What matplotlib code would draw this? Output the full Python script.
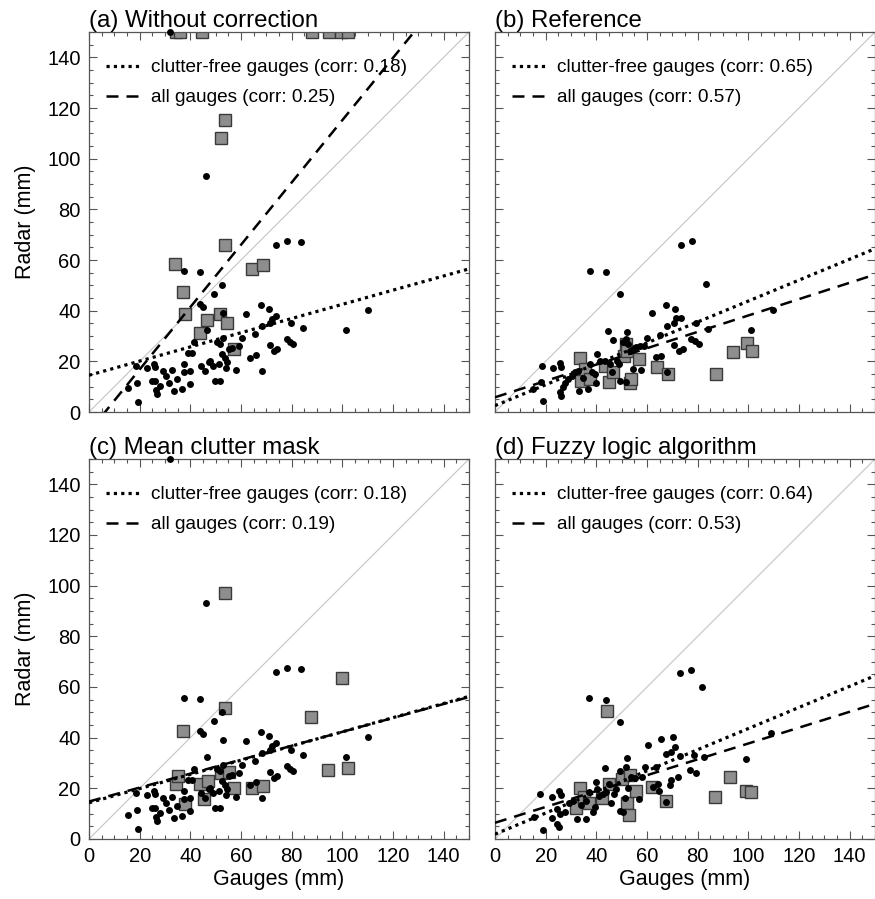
import matplotlib
matplotlib.use("Agg")
import matplotlib.pyplot as plt
import numpy as np
from matplotlib.lines import Line2D
from matplotlib.ticker import MultipleLocator

plt.rcParams['font.family'] = ['Liberation Sans', 'DejaVu Sans']

# clutter-free gauges, no correction (same in panels a and c)
free_x_a = [19.5, 15.2, 18.6, 18.9, 22.8, 25.7, 26.1, 24.8, 26.1, 26.5, 26.8, 28.1, 29.4, 30.5,
            31.4, 32.7, 33.4, 34.7, 36.7, 37.6, 37.6, 39.7, 40.0, 39.0, 40.6, 41.3, 37.6, 43.9,
            43.7, 45.0, 46.6, 44.2, 45.9, 47.2, 47.9, 48.9, 49.9, 51.8, 50.5, 51.8, 51.2, 49.5,
            52.5, 52.9, 52.9, 52.5, 53.8, 54.5, 54.2, 55.1, 56.5, 58.2, 59.1, 60.4, 62.1, 63.7,
            65.7, 66.1, 67.7, 68.1, 68.3, 71.0, 71.4, 72.3, 73.9, 71.4, 73.0, 74.3, 74.0, 78.2,
            83.5, 78.2, 79.5, 80.6, 79.8, 84.6, 101.6, 110.3, 32.0, 46.2]
free_y_a = [4.0, 9.3, 18.2, 11.3, 17.2, 19.1, 17.6, 12.3, 12.1, 8.8, 7.1, 10.3, 16.3, 14.3,
            11.3, 16.7, 8.4, 13.2, 9.0, 18.9, 15.6, 16.3, 11.0, 23.1, 23.1, 27.8, 55.6, 55.2,
            42.5, 41.5, 32.3, 18.0, 16.3, 19.9, 20.2, 18.2, 12.3, 12.1, 27.7, 27.0, 18.9, 46.4,
            50.1, 39.2, 29.1, 22.8, 21.5, 19.9, 17.2, 24.8, 25.4, 16.7, 26.1, 29.4, 38.8, 21.5,
            30.7, 22.4, 42.1, 16.0, 34.0, 40.5, 35.3, 36.9, 37.9, 26.5, 24.1, 24.8, 65.9, 67.4,
            67.0, 28.7, 27.8, 26.8, 35.3, 33.1, 32.3, 40.3, 150.0, 93.3]

# clutter-free gauges, reference
free_x_b = [37.4, 44.0, 49.3, 83.1, 18.7, 19.0, 22.7, 25.6, 26.0, 26.2, 25.6, 15.0, 18.3, 26.9,
            27.5, 28.9, 30.2, 31.5, 32.8, 33.2, 34.8, 36.7, 37.4, 38.1, 39.4, 39.8, 40.3, 41.4,
            43.3, 44.6, 45.3, 46.6, 46.0, 48.0, 49.0, 49.5, 51.6, 50.6, 52.1, 51.9, 52.5, 53.2,
            54.5, 55.8, 57.1, 58.7, 60.0, 54.3, 57.8, 61.8, 63.5, 65.7, 65.3, 67.4, 67.9, 67.7,
            70.6, 70.9, 71.6, 73.6, 70.7, 72.7, 74.2, 77.5, 79.5, 78.9, 80.6, 84.1, 73.6, 77.9,
            109.7, 100.9]
free_y_b = [55.7, 55.3, 46.5, 50.4, 18.0, 4.2, 17.2, 19.3, 17.9, 6.5, 7.8, 9.1, 11.7, 9.7,
            11.3, 13.0, 14.3, 15.6, 16.3, 8.4, 13.4, 9.1, 18.9, 15.6, 15.0, 11.4, 22.9, 20.2,
            20.2, 32.1, 18.9, 28.5, 15.6, 20.2, 18.9, 12.1, 11.7, 27.5, 31.4, 29.0, 26.8, 23.9,
            24.8, 25.5, 26.1, 26.1, 29.4, 17.0, 16.6, 38.9, 21.6, 22.2, 30.5, 42.2, 34.0, 15.6,
            35.3, 40.8, 37.0, 37.0, 26.5, 23.9, 24.8, 28.8, 35.3, 27.9, 26.8, 32.6, 65.9, 67.4,
            40.2, 32.3]

# clutter-free gauges, fuzzy logic
free_x_d = [37.1, 43.7, 49.2, 73.2, 77.5, 81.9, 108.9, 99.1, 82.5, 60.4, 65.6, 70.2, 70.9, 67.4,
            69.6, 73.2, 78.4, 77.1, 79.5, 72.3, 69.6, 69.0, 64.4, 63.7, 59.1, 52.1, 51.6, 43.3,
            49.4, 40.0, 40.3, 17.7, 22.5, 25.3, 26.2, 15.3, 19.0, 22.6, 24.5, 25.3, 24.3, 25.5,
            27.5, 29.2, 30.8, 32.4, 36.1, 37.1, 38.7, 41.1, 42.7, 45.0, 45.9, 46.8, 47.9, 49.2,
            50.5, 51.2, 52.5, 53.8, 55.4, 56.8, 58.1, 62.3, 64.6, 67.6, 34.0, 36.0, 39.5, 44.0]
free_y_d = [55.5, 55.0, 46.3, 65.6, 66.9, 59.9, 41.8, 31.5, 32.4, 37.2, 39.3, 40.1, 36.4, 33.5,
            34.2, 32.6, 33.1, 27.2, 25.9, 24.3, 23.2, 21.4, 21.9, 28.6, 28.5, 31.9, 28.5, 28.2,
            26.9, 22.4, 19.7, 17.7, 16.6, 19.0, 17.4, 8.7, 3.4, 8.2, 5.8, 4.8, 11.8, 9.9,
            10.8, 14.4, 15.0, 7.8, 7.8, 18.4, 10.5, 17.0, 17.7, 21.6, 14.4, 17.7, 19.7, 11.1,
            10.7, 16.3, 20.2, 24.4, 24.2, 15.6, 24.4, 20.6, 18.9, 14.5, 13.5, 15.0, 12.5, 18.5]

# gauges affected by clutter
clut_x_a = [33.8, 34.2, 35.8, 37.1, 38.0, 43.9, 44.6, 46.6, 51.8, 52.1, 53.5, 53.8, 54.5, 57.1,
            64.4, 68.7, 87.9, 94.7, 99.3, 102.3]
clut_y_a = [58.6, 150, 150, 47.4, 38.8, 31.3, 150, 36.2, 38.6, 108.1, 115.4, 66.1, 35.0, 24.8,
            56.5, 57.9, 150, 150, 150, 150]

clut_x_b = [33.7, 34.1, 35.4, 37.4, 43.3, 45.0, 46.6, 50.8, 51.9, 52.1, 53.2, 53.5, 56.9, 64.1,
            68.4, 87.4, 94.0, 99.5, 101.6]
clut_y_b = [21.3, 12.3, 16.9, 13.0, 18.2, 11.9, 15.6, 22.2, 27.0, 23.9, 11.3, 13.0, 20.9, 17.7,
            15.0, 15.0, 23.5, 27.2, 24.1]

clut_x_c = [34.3, 35.3, 37.1, 38.0, 43.9, 45.2, 47.0, 52.2, 53.5, 53.8, 55.1, 57.1, 64.4, 68.7,
            87.7, 94.5, 99.7, 102.2]
clut_y_c = [21.6, 24.9, 42.5, 14.0, 21.9, 15.7, 23.0, 26.2, 97.2, 51.7, 26.6, 20.1, 20.3, 21.0,
            48.0, 27.2, 63.4, 28.1]

clut_x_d = [31.9, 33.7, 35.0, 37.1, 42.3, 44.4, 45.0, 50.1, 52.0, 52.8, 53.3, 55.7, 62.0, 67.6,
            86.9, 92.8, 99.1, 101.0]
clut_y_d = [12.4, 20.0, 16.7, 14.3, 16.0, 50.7, 21.6, 23.6, 14.3, 9.4, 25.4, 19.0, 20.6, 15.0,
            16.6, 24.3, 19.0, 18.4]

# regression lines (intercept, slope) and correlations
fit_free = [(14.5, 0.28), (2.5, 0.413), (14.3, 0.28), (1.9, 0.417)]
fit_all = [(-7.8, 1.23), (5.8, 0.323), (14.8, 0.275), (6.4, 0.313)]
corr_free = [0.18, 0.65, 0.18, 0.64]
corr_all = [0.25, 0.57, 0.19, 0.53]
titles = ['(a) Without correction', '(b) Reference', '(c) Mean clutter mask',
          '(d) Fuzzy logic algorithm']

panels = [
    (free_x_a, free_y_a, clut_x_a, clut_y_a),
    (free_x_b, free_y_b, clut_x_b, clut_y_b),
    (free_x_a, free_y_a, clut_x_c, clut_y_c),
    (free_x_d, free_y_d, clut_x_d, clut_y_d),
]

W, H = 875, 899
fig = plt.figure(figsize=(W / 100, H / 100), dpi=100)
boxes = [(89, 32), (495, 32), (89, 459), (495, 459)]
aw, ah = 380, 380

dot_style = dict(linewidth=2.3, dashes=(1.0, 1.3), color='black')
dash_style = dict(linewidth=1.8, dashes=(4.8, 3.2), color='black')
frame_col = '#555555'

xx = np.array([0, 150])
for i, (fx, fy, cx, cy) in enumerate(panels):
    left, top = boxes[i]
    ax = fig.add_axes([left / W, 1 - (top + ah) / H, aw / W, ah / H])
    ax.set_xlim(0, 150)
    ax.set_ylim(0, 150)

    ax.plot(xx, xx, color='#c4c4c4', linewidth=0.8, zorder=1)
    ax.plot(cx, cy, 's', markersize=8.6, markerfacecolor='#8e8e8e',
            markeredgecolor='#3a3a3a', markeredgewidth=1.0, zorder=2)
    ax.plot(fx, fy, 'o', markersize=5.0, color='black', markeredgewidth=0,
            zorder=3, clip_on=False)

    a0, a1 = fit_free[i]
    ax.plot(xx, a0 + a1 * xx, zorder=4, **dot_style)
    b0, b1 = fit_all[i]
    ax.plot(xx, b0 + b1 * xx, zorder=4, **dash_style)

    handles = [Line2D([], [], **dot_style), Line2D([], [], **dash_style)]
    labels = ['clutter-free gauges (corr: %.2f)' % corr_free[i],
              'all gauges (corr: %.2f)' % corr_all[i]]
    ax.legend(handles, labels, loc='upper left', bbox_to_anchor=(17 / aw, 1 - 27 / ah),
              frameon=False, fontsize=13.7, handlelength=1.9, handletextpad=0.45,
              labelspacing=0.66, borderpad=0, borderaxespad=0)

    ax.set_title(titles[i], loc='left', fontsize=17.3, pad=3)

    ax.xaxis.set_major_locator(MultipleLocator(20))
    ax.xaxis.set_minor_locator(MultipleLocator(5))
    ax.yaxis.set_major_locator(MultipleLocator(20))
    ax.yaxis.set_minor_locator(MultipleLocator(5))
    ax.tick_params(which='both', direction='in', top=True, right=True,
                   color=frame_col, labelsize=14.5, width=0.8)
    ax.tick_params(which='major', length=6, pad=6)
    ax.tick_params(which='minor', length=3)
    for sp in ax.spines.values():
        sp.set_color(frame_col)
        sp.set_linewidth(0.9)

    if i % 2 == 0:
        ax.set_ylabel('Radar (mm)', fontsize=15.5, labelpad=8)
    else:
        ax.tick_params(labelleft=False)
    if i >= 2:
        ax.set_xlabel('Gauges (mm)', fontsize=15.5, labelpad=2)
    else:
        ax.tick_params(labelbottom=False)

fig.savefig('out.png', dpi=100)
